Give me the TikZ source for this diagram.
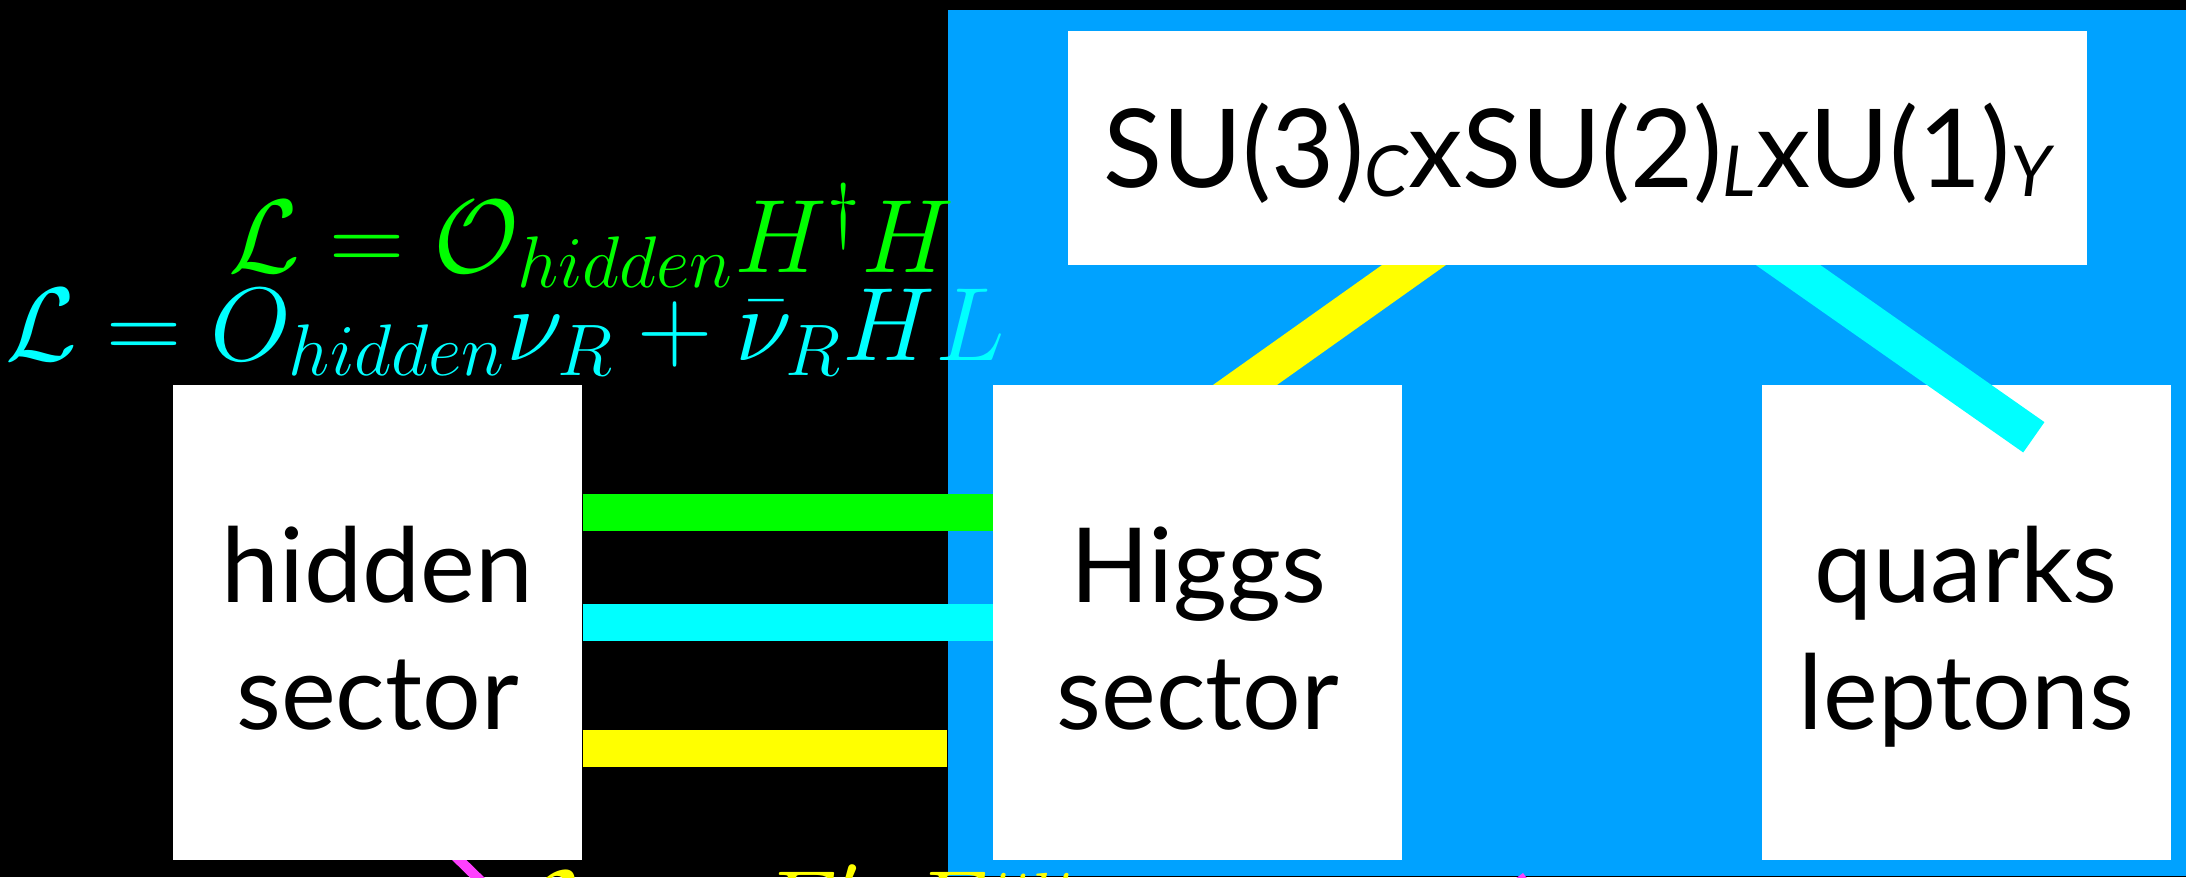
\RequirePackage{fix-cm}
\documentclass[tikz,border=0pt]{standalone}
\usepackage{fontspec}
\setsansfont{Lato}
\usetikzlibrary{positioning, calc}
\definecolor{smblue}{RGB}{0,162,255}
\definecolor{portgreen}{RGB}{0,255,0}
\definecolor{portcyan}{RGB}{0,255,255}
\definecolor{portyellow}{RGB}{255,255,0}
\definecolor{portpink}{RGB}{255,64,255}
\pgfdeclarelayer{bg}
\pgfdeclarelayer{bars}
\pgfdeclarelayer{front}
\pgfsetlayers{bg,bars,main,front}
\newcommand{\grpsub}[1]{\raisebox{-2.5pt}{\fontsize{20}{20}\selectfont\itshape #1}}

\begin{document}
\begin{tikzpicture}[every node/.style={inner sep=0pt},
   box/.style={rectangle, fill=white, minimum width=4.09cm, minimum height=4.75cm},
   boxtext/.style={font=\fontsize{29.5}{36}\selectfont\sffamily, align=center, anchor=base},
   bar/.style={line width=3.7mm},
   formula/.style={font=\fontsize{29.7}{35}\selectfont}]

  \useasboundingbox (0,0) rectangle (21.86,8.77);
  \begin{pgfonlayer}{bg}
    \fill[black] (0,0) rectangle (21.86,8.77);
    \node[fill=smblue, minimum width=12.39cm, minimum height=8.66cm,
          anchor=south west] (sm) at (9.47,0) {};
  \end{pgfonlayer}

  % the three sectors
  \node[box] (hidden) at (3.775,2.545) {};
  \node[box, right=4.1cm of hidden] (higgs) {};
  \node[box, right=3.58cm of higgs] (quarks) {};
  \node[boxtext] at ([yshift=-10.65mm]hidden.center) {hidden\\sector};
  \node[boxtext] at ([yshift=-10.65mm]higgs.center) {Higgs\\sector};
  \node[boxtext] at ([yshift=-10.65mm]quarks.center) {quarks\\leptons};

  % gauge group on top
  \begin{pgfonlayer}{front}
    \node[fill=white, minimum width=10.19cm, minimum height=2.34cm] (gauge) at (15.775,7.29) {};
    \node[font=\fontsize{31}{31}\selectfont\sffamily, anchor=base] at ([yshift=-4mm]gauge.center)
         {SU(3)\grpsub{C}xSU(2)\grpsub{L}xU(1)\grpsub{Y}};
  \end{pgfonlayer}

  % portals
  \begin{pgfonlayer}{bars}
    \draw[bar, portgreen] ([yshift=11mm]hidden.east) -- ([yshift=11mm]higgs.west);
    \draw[bar, portcyan] (hidden.east) -- (higgs.west);
    \draw[bar, portyellow] ([yshift=-12.6mm]hidden.east) -- ([yshift=-12.6mm]hidden.east -| sm.west);
    \draw[bar, portyellow, shorten <=-5mm, shorten >=-5mm]
         ([xshift=4.8mm]higgs.north) -- ([xshift=-16.45mm]gauge.south);
    \coordinate (pinkend) at (4.9,-0.13);
    \draw[portpink, line width=1mm, shorten <=-3mm] ([xshift=8.25mm]hidden.south) -- (pinkend);
  \end{pgfonlayer}
  \draw[bar, portcyan, shorten <=-5mm]
       ([xshift=21.15mm]gauge.south) -- ($(quarks.north)+(0.675,-0.53)$);
  \coordinate (pinktip) at (15.19,0.01);
  \draw[portpink, line width=1mm] (15.5,-0.4) -- (pinktip);

  % operators
  \node[formula, portgreen, anchor=base east] (higgsportal) at (9.55,6.05)
       {$\mathcal{L} = \mathcal{O}_{hidden} H^\dagger H$};
  \node[formula, portcyan, anchor=base west] (nuportal) at (0.05,5.17)
       {$\mathcal{L} = O_{hidden}\nu_R + \bar\nu_R H L$};
  \node[formula, portyellow, anchor=base west] (kinmix) at (5.1,-0.66)
       {$\mathcal{L} = \epsilon F'_{\mu\nu}F^{\mu\nu}$};
\end{tikzpicture}
\end{document}
